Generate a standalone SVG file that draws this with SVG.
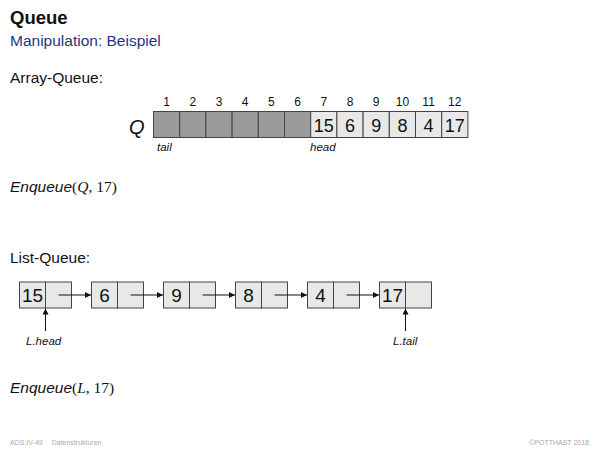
<svg xmlns="http://www.w3.org/2000/svg" width="600" height="450" viewBox="0 0 600 450">
<defs>
<style>
text{font-family:"Liberation Sans",Arial,sans-serif;fill:#111}
.h{font-size:15.5px}
.idx{font-size:12px;text-anchor:middle}
.val{font-size:18px;text-anchor:middle}
.lval{font-size:19px;text-anchor:middle}
.lab{font-size:11.5px;font-style:italic}
.math{font-family:"Liberation Serif","Times New Roman",serif;font-size:15.5px}
.dark{fill:#9b9b9b;stroke:#444;stroke-width:1}
.light{fill:#e8e8e8;stroke:#444;stroke-width:1}
.con{stroke:#111;stroke-width:1;fill:none}
.foot{font-size:7px;fill:#aaa}
</style>
<marker id="ah" viewBox="0 0 10 10" refX="10" refY="5" markerWidth="8" markerHeight="6" markerUnits="userSpaceOnUse" orient="auto">
<path d="M0,0 L10,5 L0,10 z" fill="#111"/>
</marker>
</defs>
<rect width="600" height="450" fill="#fff"/>
<text x="10" y="24" style="font-size:18.5px;font-weight:bold">Queue</text>
<text x="10" y="46" style="font-size:15.5px;fill:#26357f">Manipulation: Beispiel</text>
<text x="10" y="83" class="h">Array-Queue:</text>

<g id="array">
<text x="129" y="134" style="font-size:20px;font-style:italic">Q</text>
<rect class="dark" x="153.5" y="111.5" width="26.2" height="26"/>
<rect class="dark" x="179.7" y="111.5" width="26.2" height="26"/>
<rect class="dark" x="205.9" y="111.5" width="26.2" height="26"/>
<rect class="dark" x="232.1" y="111.5" width="26.2" height="26"/>
<rect class="dark" x="258.3" y="111.5" width="26.2" height="26"/>
<rect class="dark" x="284.5" y="111.5" width="26.2" height="26"/>
<rect class="light" x="310.7" y="111.5" width="26.2" height="26"/>
<rect class="light" x="336.9" y="111.5" width="26.2" height="26"/>
<rect class="light" x="363.1" y="111.5" width="26.2" height="26"/>
<rect class="light" x="389.3" y="111.5" width="26.2" height="26"/>
<rect class="light" x="415.5" y="111.5" width="26.2" height="26"/>
<rect class="light" x="441.7" y="111.5" width="26.2" height="26"/>
<text class="idx" x="166.6" y="106">1</text>
<text class="idx" x="192.8" y="106">2</text>
<text class="idx" x="219" y="106">3</text>
<text class="idx" x="245.2" y="106">4</text>
<text class="idx" x="271.4" y="106">5</text>
<text class="idx" x="297.6" y="106">6</text>
<text class="idx" x="323.8" y="106">7</text>
<text class="idx" x="350" y="106">8</text>
<text class="idx" x="376.2" y="106">9</text>
<text class="idx" x="402.4" y="106">10</text>
<text class="idx" x="428.6" y="106">11</text>
<text class="idx" x="454.8" y="106">12</text>
<text class="val" x="323.8" y="131.5">15</text>
<text class="val" x="350" y="131.5">6</text>
<text class="val" x="376.2" y="131.5">9</text>
<text class="val" x="402.4" y="131.5">8</text>
<text class="val" x="428.6" y="131.5">4</text>
<text class="val" x="454.8" y="131.5">17</text>
<text class="lab" x="157" y="151">tail</text>
<text class="lab" x="310" y="151">head</text>
</g>

<text x="10" y="192"><tspan style="font-size:15.5px;font-style:italic">Enqueue</tspan><tspan class="math">(<tspan font-style="italic">Q</tspan>, 17)</tspan></text>

<text x="10" y="263" class="h">List-Queue:</text>

<g id="n1"><rect class="light" x="19.5" y="282" width="26" height="26"/><rect class="light" x="45.5" y="282" width="26" height="26"/><text class="lval" x="32.5" y="302">15</text></g>
<g id="n2"><rect class="light" x="91.5" y="282" width="26" height="26"/><rect class="light" x="117.5" y="282" width="26" height="26"/><text class="lval" x="104.5" y="302">6</text></g>
<g id="n3"><rect class="light" x="163.5" y="282" width="26" height="26"/><rect class="light" x="189.5" y="282" width="26" height="26"/><text class="lval" x="176.5" y="302">9</text></g>
<g id="n4"><rect class="light" x="235.5" y="282" width="26" height="26"/><rect class="light" x="261.5" y="282" width="26" height="26"/><text class="lval" x="248.5" y="302">8</text></g>
<g id="n5"><rect class="light" x="307.5" y="282" width="26" height="26"/><rect class="light" x="333.5" y="282" width="26" height="26"/><text class="lval" x="320.5" y="302">4</text></g>
<g id="n6"><rect class="light" x="379.5" y="282" width="26" height="26"/><rect class="light" x="405.5" y="282" width="26" height="26"/><text class="lval" x="392.5" y="302">17</text></g>

<g id="connectors">
<line class="con" x1="58.5" y1="295" x2="91" y2="295" marker-end="url(#ah)"/>
<line class="con" x1="130.5" y1="295" x2="163" y2="295" marker-end="url(#ah)"/>
<line class="con" x1="202.5" y1="295" x2="235" y2="295" marker-end="url(#ah)"/>
<line class="con" x1="274.5" y1="295" x2="307" y2="295" marker-end="url(#ah)"/>
<line class="con" x1="346.5" y1="295" x2="379" y2="295" marker-end="url(#ah)"/>
<line class="con" x1="45.5" y1="331" x2="45.5" y2="308.5" marker-end="url(#ah)"/>
<line class="con" x1="405.5" y1="331" x2="405.5" y2="308.5" marker-end="url(#ah)"/>
</g>
<g id="labels">
<text class="lab" x="26" y="345">L.head</text>
<text class="lab" x="393" y="345">L.tail</text>
</g>

<text x="10" y="393"><tspan style="font-size:15.5px;font-style:italic">Enqueue</tspan><tspan class="math">(<tspan font-style="italic">L</tspan>, 17)</tspan></text>

<text class="foot" x="10" y="445">ADS:IV-49<tspan dx="9">Datenstrukturen</tspan></text>
<text class="foot" x="589" y="445" text-anchor="end">©POTTHAST 2018</text>
</svg>
